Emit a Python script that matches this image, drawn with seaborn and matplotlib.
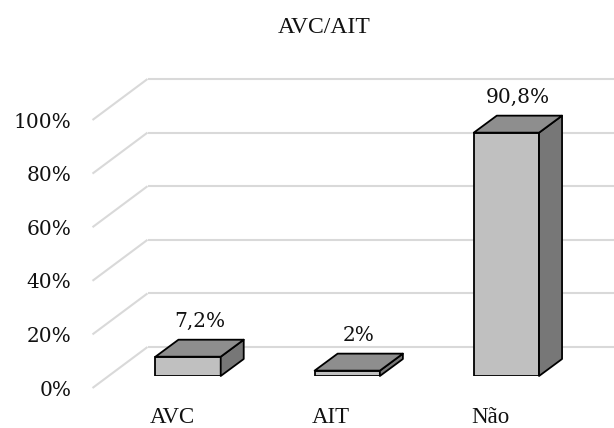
import matplotlib
matplotlib.use("Agg")
import matplotlib.pyplot as plt
from matplotlib.patches import Polygon
import seaborn as sns

# Data
categories = ["AVC", "AIT", "Não"]
values = [7.2, 2.0, 90.8]
value_labels = ["7,2%", "2%", "90,8%"]
tick_values = [0, 20, 40, 60, 80, 100]
tick_labels = ["0%", "20%", "40%", "60%", "80%", "100%"]
title = "AVC/AIT"

sns.set_theme(style="white")
plt.rcParams["font.family"] = ["DejaVu Serif"]

W, H, DPI = 614, 428, 100
fig = plt.figure(figsize=(W / DPI, H / DPI), dpi=DPI)
ax = fig.add_axes([108.5 / W, 52 / H, 477.5 / W, 268 / H])

sns.barplot(x=categories, y=values, width=0.41, color="#c0c0c0",
            edgecolor="black", linewidth=1.3, saturation=1, ax=ax, zorder=3)
ax.set_xlim(-0.5, 2.5)
ax.set_ylim(0, 100)
ax.axis("off")

# pixel -> data unit conversion for the pseudo-3D offsets
ppx = ax.bbox.width / 3.0      # px per category unit
ppy = ax.bbox.height / 100.0   # px per percent
def px(dx=0.0, dy=0.0):
    return dx / ppx, dy / ppy

bar_dx, bar_dy = px(23, 17)     # bar depth
wall_dx, wall_dy = px(39, 29)   # back wall behind bars
front_dx, front_dy = px(-16, -12)  # front edge of floor
x_left = -0.5
x_right = -0.5 + (W - ax.bbox.x0) / ppx

grid_kw = dict(color="#d9d9d9", lw=1.5, zorder=1, clip_on=False,
               solid_capstyle="butt")
for v, lab in zip(tick_values, tick_labels):
    # back wall line
    ax.plot([x_left + wall_dx, x_right], [v + wall_dy, v + wall_dy], **grid_kw)
    # side diagonal from floor front to wall
    ax.plot([x_left + front_dx, x_left + wall_dx],
            [v + front_dy, v + wall_dy], **grid_kw)
    lx, ly = px(-21, -2)
    ax.text(x_left + front_dx + lx, v + front_dy + ly, lab, ha="right",
            va="center", fontsize=14.5, color="#111111",
            family=["DejaVu Serif"], clip_on=False)

# top and side faces of each bar
for patch, lab in zip(ax.patches, value_labels):
    x0 = patch.get_x()
    w = patch.get_width()
    h = patch.get_height()
    top = Polygon([(x0, h), (x0 + bar_dx, h + bar_dy),
                   (x0 + w + bar_dx, h + bar_dy), (x0 + w, h)],
                  closed=True, facecolor="#8e8e8e", edgecolor="black",
                  lw=1.3, zorder=3, clip_on=False, joinstyle="round")
    side = Polygon([(x0 + w, 0), (x0 + w, h), (x0 + w + bar_dx, h + bar_dy),
                    (x0 + w + bar_dx, bar_dy)],
                   closed=True, facecolor="#777777", edgecolor="black",
                   lw=1.3, zorder=3, clip_on=False, joinstyle="round")
    ax.add_patch(side)
    ax.add_patch(top)
    _, gap = px(0, 13)
    ax.text(x0 + w / 2 + bar_dx / 2, h + bar_dy + gap, lab, ha="center",
            va="baseline", fontsize=14.5, color="#111111",
            family=["DejaVu Serif"], clip_on=False)

# category labels along the floor front
_, cat_dy = px(0, -47)
for i, cat in enumerate(categories):
    ax.text(i + front_dx, cat_dy, cat, ha="center", va="baseline",
            fontsize=16.5, color="#111111",
            family=["Liberation Serif"], clip_on=False)

fig.text(324 / W, 1 - 33 / H, title, ha="center", va="baseline",
         fontsize=17, color="#111111", family=["Liberation Serif"])

fig.savefig("out.png", dpi=DPI, facecolor="white")
